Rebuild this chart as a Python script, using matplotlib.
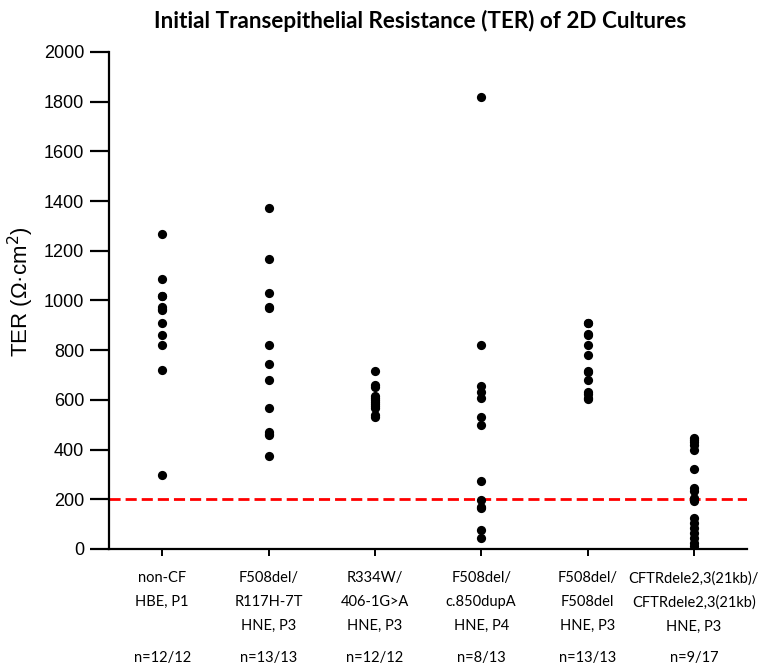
import numpy as np
import matplotlib
matplotlib.use("Agg")
import matplotlib.pyplot as plt

# groups along the x axis
groups = ["non-CF\nHBE, P1",
          "F508del/\nR117H-7T\nHNE, P3",
          "R334W/\n406-1G>A\nHNE, P3",
          "F508del/\nc.850dupA\nHNE, P4",
          "F508del/\nF508del\nHNE, P3",
          "CFTRdele2,3(21kb)/\nCFTRdele2,3(21kb)\nHNE, P3"]
n_labels = ["n=12/12", "n=13/13", "n=12/12", "n=8/13", "n=13/13", "n=9/17"]

# TER values (Ohm*cm^2)
ter_hbe = [1268, 1087, 1020, 1018, 972, 966, 960, 910, 863, 819, 721, 298]
ter_r117h = [1373, 1165, 1031, 975, 970, 819, 744, 682, 566, 470, 462, 457, 374]
ter_r334w = [717, 660, 652, 615, 608, 600, 592, 585, 576, 568, 540, 531]
ter_850dup = [1818, 819, 656, 633, 608, 530, 497, 272, 197, 170, 166, 78, 45]
ter_f508 = [911, 908, 864, 861, 822, 782, 717, 714, 682, 633, 625, 608, 605]
ter_dele = [445, 438, 431, 418, 400, 320, 245, 234, 207,
            193, 125, 105, 84, 64, 44, 26, 12]
all_ter = [ter_hbe, ter_r117h, ter_r334w, ter_850dup, ter_f508, ter_dele]

threshold = 200

fig = plt.figure(figsize=(7.65, 6.69), dpi=100)
ax = fig.add_axes([0.1425, 0.1794, 0.834, 0.7429])

for i, vals in enumerate(all_ter):
    xs = np.full(len(vals), i + 1)
    ax.scatter(xs, vals, s=44, color="black", zorder=3, linewidths=0)

ax.axhline(threshold, color="red", linestyle=(0, (4, 1.8)), linewidth=2.0, zorder=2)

ax.set_xlim(0.5, 6.5)
ax.set_ylim(0, 2000)
ax.set_yticks(np.arange(0, 2001, 200))
ax.set_xticks(np.arange(1, 7))
ax.set_xticklabels(groups, family="Lato", fontsize=10.5, linespacing=1.9)

for s in ["top", "right"]:
    ax.spines[s].set_visible(False)
for s in ["left", "bottom"]:
    ax.spines[s].set_linewidth(1.6)

ax.tick_params(axis="y", length=14, width=1.6, pad=4, labelsize=13)
ax.tick_params(axis="x", length=5, width=1.4, pad=11)
for lab in ax.get_yticklabels():
    lab.set_family("Liberation Sans")

for i, t in enumerate(n_labels):
    ax.text(i + 1, -0.219, t, transform=ax.get_xaxis_transform(),
            ha="center", va="center", family="Lato", fontsize=10.5)

fig.text(420 / 765, 1 - 21 / 669, "Initial Transepithelial Resistance (TER) of 2D Cultures",
         ha="center", va="center", family="Lato", fontweight="bold", fontsize=16.2)
fig.text(21 / 765, 1 - 292 / 669, "TER (Ω·cm$^2$)", rotation=90,
         ha="center", va="center", family="Liberation Sans", fontsize=16)

fig.savefig("out.png", dpi=100)
